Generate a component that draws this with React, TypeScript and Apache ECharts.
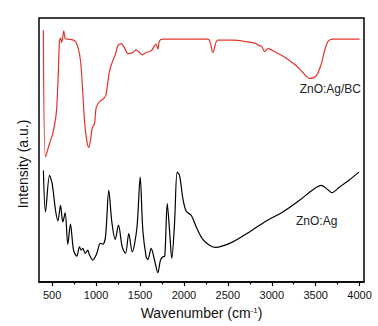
import React, { useEffect, useRef } from "react";
import * as echarts from "echarts";

// Wavenumber (cm-1) and intensity (a.u.)
const bcWave = [400, 424, 470, 507, 546, 565, 583, 595, 609, 632, 648, 678, 735, 773, 811, 830, 849, 868, 894, 917, 936, 955, 982, 1001, 1039, 1096, 1115, 1153, 1190, 1221, 1247, 1286, 1323, 1361, 1400, 1418, 1456, 1494, 1525, 1571, 1627, 1665, 1684, 1703, 1722, 1760, 2272, 2329, 2386, 2557, 2709, 2823, 2861, 2880, 2918, 2956, 3051, 3165, 3279, 3354, 3430, 3506, 3563, 3601, 3639, 3696, 4000];
const bcVal = [252.7, 125.3, 139, 149, 169, 199, 242, 244.7, 240.3, 252, 244.7, 243.7, 243, 240.3, 229, 215, 189, 162, 142, 135, 142, 154, 159, 175, 181, 185, 189, 212, 222, 229, 237, 239.3, 235.3, 229.3, 229.7, 230.3, 233, 230.3, 228, 230.3, 232, 237, 238.7, 233.7, 242, 243.7, 243.7, 230.3, 242.7, 242.7, 241.3, 239.3, 237, 237, 231.3, 234.3, 230.3, 224.7, 217, 210.3, 204.3, 207, 218.7, 232, 241.3, 243.7, 243.7];

const agWave = [400, 424, 470, 500, 538, 565, 595, 621, 648, 678, 708, 743, 780, 811, 830, 849, 876, 905, 925, 962, 1008, 1047, 1077, 1107, 1145, 1179, 1218, 1255, 1297, 1335, 1372, 1411, 1464, 1502, 1532, 1570, 1589, 1627, 1665, 1703, 1733, 1760, 1782, 1810, 1836, 1862, 1893, 1923, 1950, 1988, 2026, 2083, 2140, 2215, 2291, 2360, 2443, 2557, 2747, 2937, 3126, 3316, 3468, 3563, 3639, 3684, 3772, 3886, 3992];
const agVal = [112, 70.3, 107, 98.7, 72, 61.3, 77, 60.3, 69.3, 37.7, 58, 32, 26, 35.3, 32, 33.7, 28.7, 32, 27, 22, 28.7, 38.7, 38, 45.3, 92, 60.3, 42.7, 57, 35.3, 28.7, 48.7, 30.3, 53.7, 105.3, 52, 25.3, 22.7, 33.7, 22, 9.3, 22, 25.3, 26, 78.7, 52, 23.7, 58.7, 110.3, 107, 83.7, 71, 67, 55.3, 42.7, 37, 34.7, 36.3, 40.3, 50.3, 61.3, 70.3, 82, 92.7, 97, 92.7, 89.7, 95.3, 102.7, 110.3];

const majorTicks = [500, 1000, 1500, 2000, 2500, 3000, 3500, 4000];
const minorTicks = [750, 1250, 1750, 2250, 2750, 3250, 3750];

const FONT = "Liberation Sans, Arial, Helvetica, sans-serif";

export default function App() {
  const ref = useRef<HTMLDivElement>(null);
  useEffect(() => {
    if (!ref.current) return;
    const chart = echarts.init(ref.current, undefined, { renderer: "svg" });
    const toPairs = (xs: number[], ys: number[]) => xs.map((x, i) => [x, ys[i]]);
    chart.setOption({
      animation: false,
      backgroundColor: "#fff",
      grid: {
        left: 39,
        right: 14,
        top: 18,
        bottom: 44,
        show: true,
        borderColor: "#000",
        borderWidth: 1.5,
        backgroundColor: "transparent",
      },
      xAxis: [
        {
          type: "value",
          min: 350,
          max: 4050,
          position: "bottom",
          axisLine: { show: true, lineStyle: { color: "#000", width: 1.5 } },
          axisTick: { show: true, customValues: majorTicks, length: 4, lineStyle: { color: "#000", width: 1.2 } },
          axisLabel: {
            show: true,
            customValues: majorTicks,
            margin: 7,
            color: "#111",
            fontSize: 11,
            fontFamily: FONT,
            formatter: (v: number) => String(v),
          },
          splitLine: { show: false },
        },
        {
          type: "value",
          min: 350,
          max: 4050,
          position: "bottom",
          axisLine: { show: false },
          axisTick: { show: true, customValues: minorTicks, length: 2.5, lineStyle: { color: "#000", width: 1.2 } },
          axisLabel: { show: false },
          splitLine: { show: false },
        },
      ],
      yAxis: {
        type: "value",
        min: 0,
        max: 265,
        axisLine: { show: false },
        axisTick: { show: false },
        axisLabel: { show: false },
        splitLine: { show: false },
      },
      series: [
        {
          name: "ZnO:Ag/BC",
          type: "line",
          data: toPairs(bcWave, bcVal),
          showSymbol: false,
          smooth: 0.3,
          lineStyle: { color: "#e3342b", width: 1.2 },
          itemStyle: { color: "#e3342b" },
        },
        {
          name: "ZnO:Ag",
          type: "line",
          data: toPairs(agWave, agVal),
          showSymbol: false,
          smooth: 0.3,
          lineStyle: { color: "#000", width: 1.2 },
          itemStyle: { color: "#000" },
        },
      ],
      graphic: [
        {
          type: "text",
          x: 23,
          y: 164,
          rotation: Math.PI / 2,
          style: { text: "Intensity (a.u.)", align: "center", verticalAlign: "middle", fontSize: 14, fontFamily: FONT, fill: "#111" },
        },
        {
          type: "text",
          x: 201.5,
          y: 313,
          style: {
            text: "{a|Wavenumber (cm}{s|-1}{a|)}",
            align: "center",
            verticalAlign: "middle",
            fill: "#111",
            rich: {
              a: { fontSize: 14, fontFamily: FONT, fill: "#111", verticalAlign: "middle" },
              s: { fontSize: 8, fontFamily: FONT, fill: "#111", verticalAlign: "top", padding: [0, 0, 6, 0] },
            },
          },
        },
        {
          type: "text",
          x: 361,
          y: 89,
          style: { text: "ZnO:Ag/BC", align: "right", verticalAlign: "middle", fontSize: 12, fontFamily: FONT, fill: "#222" },
        },
        {
          type: "text",
          x: 296,
          y: 221,
          style: { text: "ZnO:Ag", align: "left", verticalAlign: "middle", fontSize: 12, fontFamily: FONT, fill: "#222" },
        },
      ],
    });
    return () => chart.dispose();
  }, []);
  return <div ref={ref} style={{ width: 378, height: 326, position: "absolute", left: 0, top: 0 }} />;
}
